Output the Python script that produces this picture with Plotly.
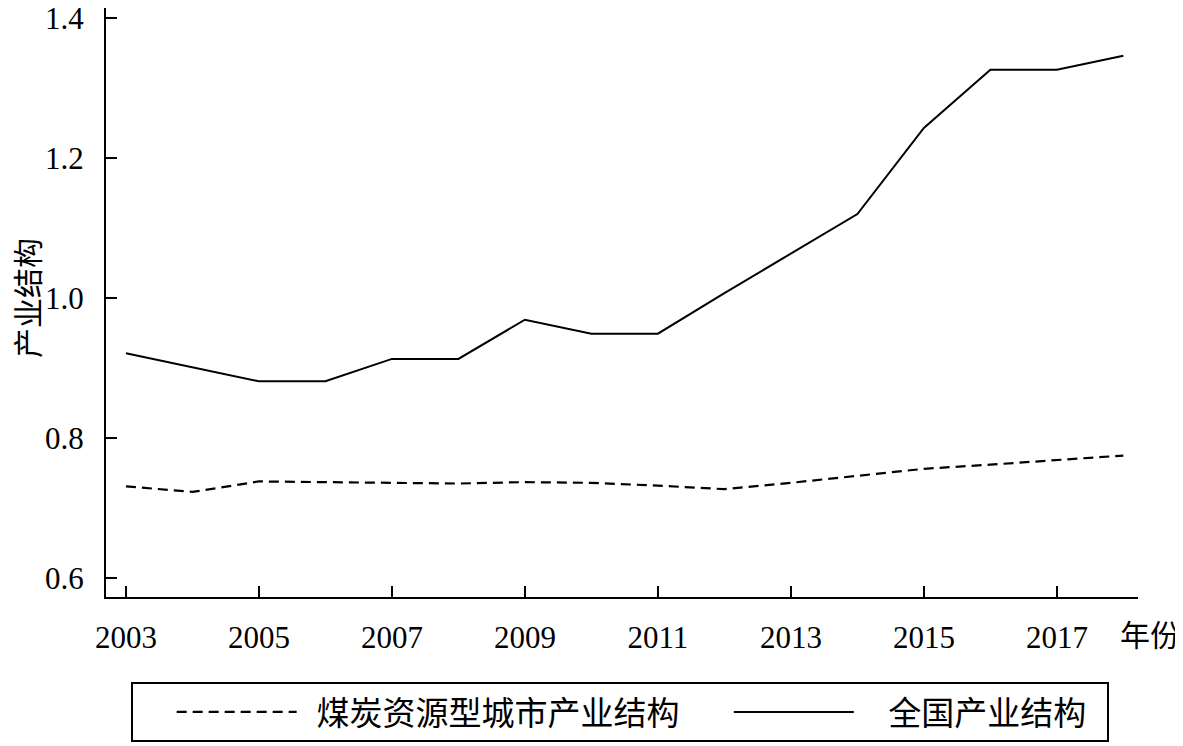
import plotly.graph_objects as go

years = list(range(2003, 2019))
coal_city = [0.731, 0.723, 0.738, 0.737, 0.736, 0.735, 0.737, 0.736,
             0.732, 0.727, 0.736, 0.746, 0.756, 0.762, 0.768, 0.775]
national = [0.921, 0.901, 0.881, 0.881, 0.913, 0.913, 0.969, 0.949,
            0.949, 1.007, 1.063, 1.120, 1.243, 1.326, 1.326, 1.346]
x_ticks = [2003, 2005, 2007, 2009, 2011, 2013, 2015, 2017]
y_ticks = [0.6, 0.8, 1.0, 1.2, 1.4]
name_coal = "煤炭资源型城市产业结构"
name_nat = "全国产业结构"
x_title = "年份"
y_title = "产业结构"

serif = "Liberation Serif, Times New Roman, serif"
cjk = "Noto Sans CJK SC, sans-serif"
nb = "\u00a0"

fig = go.Figure()
fig.add_trace(go.Scatter(x=years, y=coal_city, mode="lines", name=nb * 2 + name_coal + nb * 6,
                         line=dict(color="black", width=2.2, dash="10px,6px")))
fig.add_trace(go.Scatter(x=years, y=national, mode="lines", name=nb * 4 + name_nat + nb * 2,
                         line=dict(color="black", width=2)))

fig.update_layout(
    width=1175, height=738,
    margin=dict(l=98, r=45, t=0, b=149),
    plot_bgcolor="white", paper_bgcolor="white",
    font=dict(family=serif, size=30, color="black"),
    showlegend=True,
    legend=dict(orientation="h", x=0.0242, xanchor="left", y=-0.1443, yanchor="top",
                bordercolor="black", borderwidth=2, bgcolor="white",
                font=dict(family=cjk, size=33, color="black"),
                title=dict(text=nb * 4, side="left", font=dict(family=cjk, size=32)),
                itemwidth=120, entrywidth=0),
    xaxis=dict(range=[2002.70, 2018.22], tickvals=x_ticks, ticktext=[str(v) for v in x_ticks],
               showgrid=False, zeroline=False, showline=True, linecolor="black", linewidth=2,
               ticks="inside", ticklen=11, tickwidth=2, tickcolor="black", automargin=False,
               ticklabelstandoff=12, tickfont=dict(family=serif, size=31)),
    yaxis=dict(range=[0.5729, 1.4143], tickvals=y_ticks, ticktext=["0.6", "0.8", "1.0", "1.2", "1.4"],
               showgrid=False, zeroline=False, showline=True, linecolor="black", linewidth=2,
               ticks="inside", ticklen=11, tickwidth=2, tickcolor="black", automargin=False,
               ticklabelstandoff=14, ticklabeloverflow="allow", tickfont=dict(family=serif, size=31)),
    annotations=[
        dict(text=x_title, xref="paper", yref="paper", x=0.9806, y=-0.020,
             xanchor="left", yanchor="top", showarrow=False,
             font=dict(family=cjk, size=30, color="black")),
        dict(text=y_title, xref="paper", yref="paper", x=-0.0775, y=0.5076,
             xanchor="center", yanchor="middle", textangle=-90, showarrow=False,
             font=dict(family=cjk, size=30, color="black")),
    ],
)

fig.write_html("out.html")
